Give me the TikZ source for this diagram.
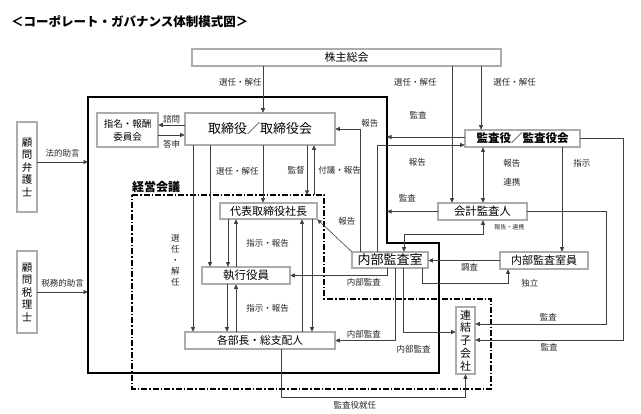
\documentclass[tikz,border=0pt]{standalone}
\usepackage{fontspec}
\newfontfamily\jp{Noto Sans CJK JP}
\usetikzlibrary{arrows.meta}

\tikzset{
  box/.style={draw=black, line width=.55pt, double=gray!65, double distance=1.5pt,
    fill=white, inner sep=0pt, align=center},
  vtext/.style={font=\jp\fontsize{10.5}{12.5}\selectfont},
  lbl/.style={font=\jp\fontsize{8.5}{10}\selectfont, inner sep=1pt, text=black!85},
  sml/.style={font=\jp\fontsize{6}{7}\selectfont, inner sep=1pt, text=black!85},
  arr/.style={-{Triangle[length=4.5pt,width=4pt]}, line width=.6pt, draw=black!75},
  both/.style={{Triangle[length=4.5pt,width=4pt]}-{Triangle[length=4.5pt,width=4pt]}, line width=.6pt, draw=black!75},
  frame/.style={line width=1.6pt},
  keiei/.style={line width=1.3pt, dash pattern=on 6pt off 2pt on 1.5pt off 2pt},
}

\begin{document}
\begin{tikzpicture}[x=1pt, y=-1pt, font=\jp]
\useasboundingbox (0,0) rectangle (641,414);

\node[font=\jp\fontsize{12.5}{14}\selectfont\bfseries, anchor=west, inner sep=0] (title) at (11,22) {＜コーポレート・ガバナンス体制模式図＞};

% boxes
\node[box, font=\jp\fontsize{11}{13}\selectfont, minimum width=309pt, minimum height=17pt] (soukai) at (346.5,57.5) {株主総会};
\node[box, vtext, minimum width=20pt, minimum height=90pt] (bengo) at (27,167) {顧\\問\\弁\\護\\士};
\node[box, vtext, minimum width=20pt, minimum height=82pt] (zeiri) at (27,292) {顧\\問\\税\\理\\士};
\node[box, font=\jp\fontsize{9.5}{13}\selectfont, minimum width=61pt, minimum height=34pt] (iinkai) at (127.5,130) {指名・報酬\\委員会};
\node[box, font=\jp\fontsize{13}{15}\selectfont, minimum width=150pt, minimum height=32pt] (torishimari) at (260,129) {取締役／取締役会};
\node[box, font=\jp\fontsize{11}{13}\selectfont, minimum width=97pt, minimum height=16pt] (shacho) at (268.5,211) {代表取締役社長};
\node[box, font=\jp\fontsize{11.5}{13}\selectfont, minimum width=88pt, minimum height=17pt] (shikko) at (246,275.5) {執行役員};
\node[box, font=\jp\fontsize{10.75}{13}\selectfont, minimum width=150pt, minimum height=17pt] (buchou) at (260,340.5) {各部長・総支配人};
\node[box, font=\jp\fontsize{11.5}{13}\selectfont\bfseries, minimum width=115pt, minimum height=17pt] (kansayaku) at (522.5,138.5) {監査役／監査役会};
\node[box, font=\jp\fontsize{11.4}{13}\selectfont, minimum width=89pt, minimum height=17pt] (kaikei) at (482.5,211.5) {会計監査人};
\node[box, font=\jp\fontsize{13}{15}\selectfont, minimum width=76pt, minimum height=16pt] (naibu) at (390,260) {内部監査室};
\node[box, font=\jp\fontsize{11}{13}\selectfont, minimum width=88pt, minimum height=17pt] (naibuin) at (544,260.5) {内部監査室員};
\node[box, font=\jp\fontsize{11}{12.8}\selectfont, minimum width=19pt, minimum height=67pt] (renketsu) at (465.5,340.5) {連\\結\\子\\会\\社};

% frames
\coordinate (bigNW) at (88,97);
\coordinate (bigNE) at (387,97);
\draw[frame] (bigNW) -- (bigNE) -- (387,243) -- (439,243) -- (439,373) -- (88,373) -- cycle;
\coordinate (keiNW) at (132,195);
\draw[keiei] (keiNW) -- (324,195) -- (324,299) -- (491,299) -- (491,389) -- (132,389) -- cycle;
\node[font=\jp\fontsize{12}{14}\selectfont\bfseries, anchor=south west, inner sep=0] (keieilbl) at (132,193) {経営会議};

% shareholders
\draw[arr] (soukai.south -| 263,0) -- node[lbl, left, pos=.34] {選任・解任} (torishimari.north -| 263,0);
\draw[arr] (soukai.south -| 452,0) -- node[lbl, left=14pt, pos=.12] {選任・解任} (kaikei.north -| 452,0);
\draw[arr] (soukai.south -| 481,0) -- node[lbl, right=11pt, pos=.25] {選任・解任} (kansayaku.north -| 481,0);

% advisers
\draw[arr] (bengo.east |- 0,162) -- node[lbl, above=4pt] {法的助言} (bigNW |- 0,162);
\draw[arr] (zeiri.east |- 0,292) -- node[lbl, above=4pt] {税務的助言} (bigNW |- 0,292);

% committee
\draw[arr] (torishimari.west |- 0,125) -- node[lbl, above=1pt] {諮問} (iinkai.east |- 0,125);
\draw[arr] (iinkai.east |- 0,135) -- node[lbl, below=4pt] {答申} (torishimari.west |- 0,135);

% board
\draw[arr] (torishimari.south -| 193,0) -- node[lbl, left=12pt, pos=.615, align=center, font=\jp\fontsize{8.5}{11}\selectfont] {選\\任\\・\\解\\任} (buchou.north -| 193,0);
\draw[arr] (torishimari.south -| 210,0) -- (shikko.north -| 210,0);
\draw[arr] (torishimari.south -| 263,0) -- node[lbl, left=3pt, pos=.45] {選任・解任} (shacho.north -| 263,0);
\draw[arr] (torishimari.south -| 307,0) -- node[lbl, left=1pt, pos=.5] {監督} (keiNW -| 307,0);
\draw[arr] (keiNW -| 314,0) -- node[lbl, right=3pt, pos=.5] {付議・報告} (torishimari.south -| 314,0);

% executives
\draw[arr] (shacho.south -| 228,0) -- (shikko.north -| 228,0);
\draw[arr] (shikko.north -| 236,0) -- node[lbl, right=9pt] {指示・報告} (shacho.south -| 236,0);
\draw[arr] (shacho.south -| 312,0) -- (buchou.north -| 312,0);
\draw[arr] (buchou.north -| 302,0) -- (shacho.south -| 302,0);
\draw[arr] (shikko.south -| 227,0) -- (buchou.north -| 227,0);
\draw[arr] (buchou.north -| 236,0) -- node[lbl, right=9pt] {指示・報告} (shikko.south -| 236,0);

% auditors
\draw[arr] (kansayaku.west |- 0,137) -- node[lbl, above=17pt, pos=.6] {監査} (bigNE |- 0,137);
\draw[arr] (kaikei.west) -- node[lbl, above=8pt, pos=.6] {監査} (bigNE |- kaikei.west);
\draw[both] (kansayaku.south -| 483,0) -- node[lbl, right=19pt, pos=.29] {報告} node[lbl, right=19pt, pos=.64] {連携} (kaikei.north -| 483,0);
\draw[arr] (kansayaku.south -| 562,0) -- node[lbl, right=10pt, pos=.15] {指示} (naibuin.north -| 562,0);
\draw[arr] (kansayaku.east) -| (623,340) -- node[lbl, below=2pt] {監査} (renketsu.east |- 0,340);
\draw[arr] (kaikei.east) -| (606,324) -- node[lbl, above=2pt, pos=.44] {監査} (renketsu.east |- 0,324);

% internal audit
\draw[arr] (naibu.north -| 360,0) |- node[lbl, pos=.5, anchor=south west] {報告} (torishimari.east);
\draw[arr] (naibu.north -| 377,0) |- node[lbl, pos=.73, below=12pt] {報告} (kansayaku.west |- 0,145);
\draw[both] (naibu.north -| 404,0) -- (404,234) -| node[sml, pos=.75, right=10pt] {報告・連携} (kaikei.south -| 483,0);
\draw[arr] (naibuin.west) -- node[lbl, below=2pt, pos=.42] {調査} (naibu.east |- naibuin.west);
\draw[arr] (naibu.south -| 422,0) -- (422,283) -| node[lbl, pos=.5, right=12pt] {独立} (naibuin.south -| 508,0);
\draw[arr] (naibu.north west) -- node[lbl, pos=.95, right=18pt] {報告} (shacho.south east);
\draw[arr] (naibu.south -| 387,0) |- node[lbl, pos=.62, below=2pt] {内部監査} (shikko.east);
\draw[arr] (naibu.south -| 395,0) |- node[lbl, pos=.76, above=1pt] {内部監査} (buchou.east);
\draw[arr] (naibu.south -| 403,0) |- node[lbl, pos=.6, below=12pt] {内部監査} (renketsu.west |- 0,332);

% subsidiaries
\draw[arr] (buchou.south -| 281,0) |- node[lbl, pos=.7, below=3pt] {監査役就任} (renketsu.south |- 0,397) -- (renketsu.south);

\end{tikzpicture}
\end{document}
